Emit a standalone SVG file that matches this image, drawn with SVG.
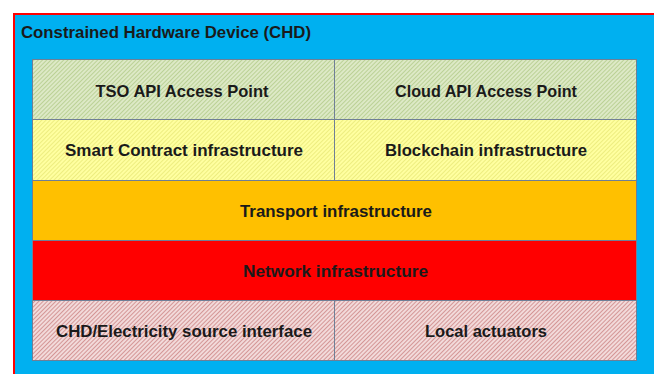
<svg xmlns="http://www.w3.org/2000/svg" width="654" height="374" viewBox="0 0 654 374">
<defs>
<pattern id="hGreen" width="3" height="3" patternUnits="userSpaceOnUse" patternTransform="rotate(45)">
<rect width="3" height="3" fill="#DDE9C6"/><rect width="1" height="3" fill="#BBD196"/>
</pattern>
<pattern id="hYellow" width="3" height="3" patternUnits="userSpaceOnUse" patternTransform="rotate(45)">
<rect width="3" height="3" fill="#FFFFA0"/><rect width="1" height="3" fill="#EDED80"/>
</pattern>
<pattern id="hPink" width="3" height="3" patternUnits="userSpaceOnUse" patternTransform="rotate(45)">
<rect width="3" height="3" fill="#F2DADA"/><rect width="1" height="3" fill="#D49696"/>
</pattern>
<style>
.cell{stroke:#6F7F96;stroke-width:1}
.t{font-family:"Liberation Sans",Arial,sans-serif;font-weight:bold;font-size:17px;fill:#1a1a1a;text-anchor:middle}
.title{font-family:"Liberation Sans",Arial,sans-serif;font-weight:bold;font-size:17px;fill:#1a1a1a}
</style>
</defs>
<rect width="654" height="374" fill="#ffffff"/>
<g id="chd">
<rect x="14" y="14" width="680" height="400" fill="#00B0F0" stroke="#FF0000" stroke-width="2"/>
<text class="title" x="21" y="38" textLength="290" lengthAdjust="spacingAndGlyphs">Constrained Hardware Device (CHD)</text>
</g>
<g id="tso"><rect class="cell" x="32.5" y="59.5" width="302" height="60" fill="url(#hGreen)"/><text class="t" x="182" y="96.5" textLength="173" lengthAdjust="spacingAndGlyphs">TSO API Access Point</text></g>
<g id="cloud"><rect class="cell" x="334.5" y="59.5" width="302" height="60" fill="url(#hGreen)"/><text class="t" x="486" y="96.5" textLength="182" lengthAdjust="spacingAndGlyphs">Cloud API Access Point</text></g>
<g id="smart"><rect class="cell" x="32.5" y="119.5" width="302" height="61" fill="url(#hYellow)"/><text class="t" x="184" y="156" textLength="238" lengthAdjust="spacingAndGlyphs">Smart Contract infrastructure</text></g>
<g id="blockchain"><rect class="cell" x="334.5" y="119.5" width="302" height="61" fill="url(#hYellow)"/><text class="t" x="486" y="156" textLength="202" lengthAdjust="spacingAndGlyphs">Blockchain infrastructure</text></g>
<g id="transport"><rect class="cell" x="32.5" y="180.5" width="604" height="60" fill="#FFC000"/><text class="t" x="336" y="217" textLength="192" lengthAdjust="spacingAndGlyphs">Transport infrastructure</text></g>
<g id="network"><rect class="cell" x="32.5" y="240.5" width="604" height="60" fill="#FF0000"/><text class="t" x="335.5" y="276.5" textLength="185" lengthAdjust="spacingAndGlyphs">Network infrastructure</text></g>
<g id="source"><rect class="cell" x="32.5" y="300.5" width="302" height="60" fill="url(#hPink)"/><text class="t" x="184" y="337" textLength="256" lengthAdjust="spacingAndGlyphs">CHD/Electricity source interface</text></g>
<g id="actuators"><rect class="cell" x="334.5" y="300.5" width="302" height="60" fill="url(#hPink)"/><text class="t" x="486" y="337" textLength="122" lengthAdjust="spacingAndGlyphs">Local actuators</text></g>
<g id="connectors"/>
</svg>
